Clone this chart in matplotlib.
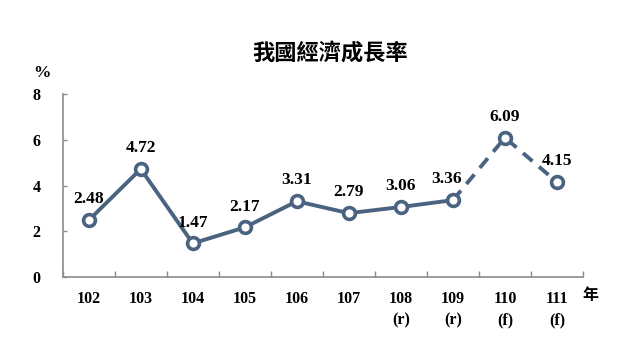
import matplotlib
matplotlib.use("Agg")
import matplotlib.pyplot as plt
import numpy as np

years = ["102", "103", "104", "105", "106", "107", "108\n(r)", "109\n(r)", "110\n(f)", "111\n(f)"]
values = [2.48, 4.72, 1.47, 2.17, 3.31, 2.79, 3.06, 3.36, 6.09, 4.15]
n_actual = 8  # first 8 are actual (solid), rest forecast (dashed)
yticks = [0, 2, 4, 6, 8]
title = "我國經濟成長率"

serif = ["Liberation Serif", "DejaVu Serif"]
cjk = ["Noto Sans CJK TC", "DejaVu Sans"]
color = "#4a6381"
spine_c = "#8c8c8c"

fig = plt.figure(figsize=(6.4, 3.6), dpi=100)
ax = fig.add_axes([62.7/640, 1-277/360, (583-62.7)/640, (277-94)/360])

x = np.arange(len(values))
ax.plot(x[:n_actual], values[:n_actual], color=color, lw=2.8, solid_capstyle='round', zorder=2)
ax.plot(x[n_actual-1:], values[n_actual-1:], color=color, lw=2.8, ls=(0, (3.2, 2.2)), zorder=2)
ax.plot(x, values, ls='none', marker='o', ms=8.5, mfc='white', mec=color, mew=2.6, zorder=3)

offsets = {7: (-4.5, 15)}
for i, v in enumerate(values):
    dx, dy = offsets.get(i, (0, 15))
    ax.annotate(f"{v:.2f}", (x[i], v), xytext=(dx, dy), textcoords='offset points',
                ha='center', va='center', fontsize=12.5, fontweight='bold', family=serif, color='black')

ax.set_xlim(-0.5, len(values) - 0.5)
ax.set_ylim(0, 8)
ax.set_yticks(yticks)
ax.set_yticklabels([str(t) for t in yticks], family=serif, fontweight='bold', fontsize=11.5)
ax.set_xticks(x)
ax.set_xticklabels(years, family=serif, fontweight='bold', fontsize=11.5, linespacing=1.5)
ax.set_xticks(np.arange(len(values) + 1) - 0.5, minor=True)
ax.tick_params(axis='x', which='major', length=0, pad=10)
ax.tick_params(axis='x', which='minor', direction='in', length=4, color=spine_c, width=1)
ax.tick_params(axis='y', which='major', direction='in', length=3, color=spine_c, width=1, pad=16)

for s in ['top', 'right']:
    ax.spines[s].set_visible(False)
for s in ['left', 'bottom']:
    ax.spines[s].set_color(spine_c)
    ax.spines[s].set_linewidth(1.2)

fig.text(330/640, 1-53/360, title, ha='center', va='center', fontsize=16, fontweight='bold', family=cjk)
fig.text(42/640, 1-73/360, "%", ha='center', va='center', fontsize=12.5, fontweight='bold', family=serif)
fig.text(590/640, 1-295/360, "年", ha='center', va='center', fontsize=11.5, fontweight='bold', family=cjk)

fig.savefig("out.png", dpi=100)
